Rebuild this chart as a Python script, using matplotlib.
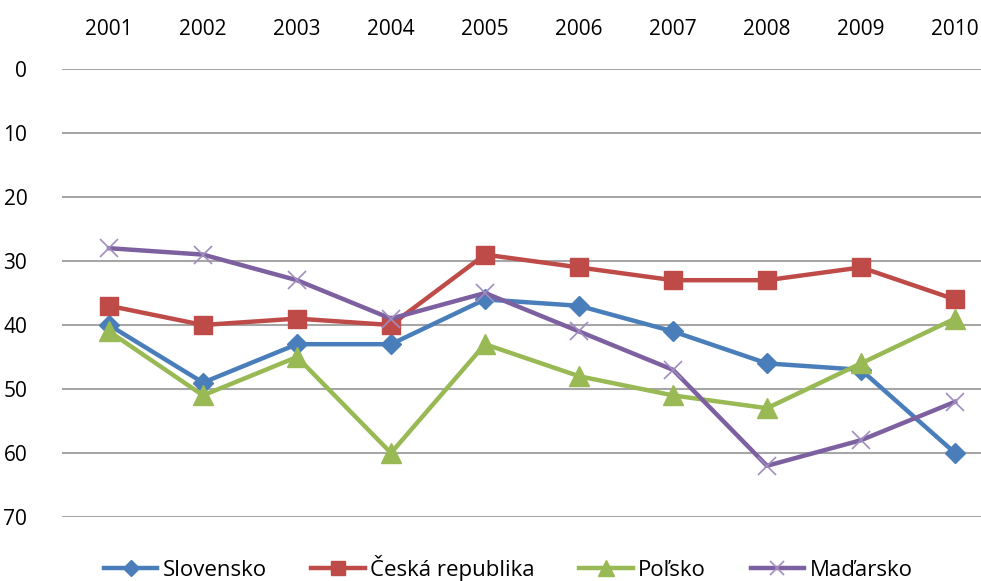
import matplotlib
matplotlib.use("Agg")
import matplotlib.pyplot as plt

years = ["2001", "2002", "2003", "2004", "2005", "2006", "2007", "2008", "2009", "2010"]
slovensko = [40, 49, 43, 43, 36, 37, 41, 46, 47, 60]
ceska = [37, 40, 39, 40, 29, 31, 33, 33, 31, 36]
polsko = [41, 51, 45, 60, 43, 48, 51, 53, 46, 39]
madarsko = [28, 29, 33, 39, 35, 41, 47, 62, 58, 52]
yticks = [0, 10, 20, 30, 40, 50, 60, 70]

plt.rcParams['font.family'] = ['Open Sans', 'DejaVu Sans']

W, H = 981, 581
fig = plt.figure(figsize=(W / 100, H / 100), dpi=100)
ax = fig.add_axes([62 / W, 1 - 517 / H, (1002 - 62) / W, (517 - 69) / H])

x = list(range(len(years)))
lw = 3.2
l1, = ax.plot(x, slovensko, color="#4A7EBB", lw=lw, marker="D", ms=10, label="Slovensko", zorder=3)
l2, = ax.plot(x, ceska, color="#BE4B48", lw=lw, marker="s", ms=13, label="Česká republika", zorder=3)
l3, = ax.plot(x, polsko, color="#98B954", lw=lw, marker="^", ms=14, label="Poľsko", zorder=3)
l4, = ax.plot(x, madarsko, color="#7D60A0", lw=lw, marker="x", ms=13, mew=1.2,
              mec="#A08CC0", label="Maďarsko", zorder=3)

ax.set_xlim(-0.5, 9.5)
ax.set_ylim(70, 0)
ax.set_yticks(yticks)
ax.set_xticks(x)
ax.set_xticklabels(years)
ax.xaxis.tick_top()
ax.tick_params(axis="both", length=0, labelsize=15, colors="#000000")
ax.tick_params(axis="x", pad=21)
ax.tick_params(axis="y", pad=25)
for s in ax.spines.values():
    s.set_visible(False)
ax.grid(axis="y", color="#A6A6A6", lw=1.5)
ax.set_axisbelow(True)

fig.legend(handles=[l1, l2, l3, l4], loc="center", bbox_to_anchor=(0.518, 1 - 568 / H),
           ncol=4, frameon=False, fontsize=16, handlelength=2.4, columnspacing=2.0,
           handletextpad=0.25, markerscale=0.8)

fig.savefig("out.png", dpi=100)
